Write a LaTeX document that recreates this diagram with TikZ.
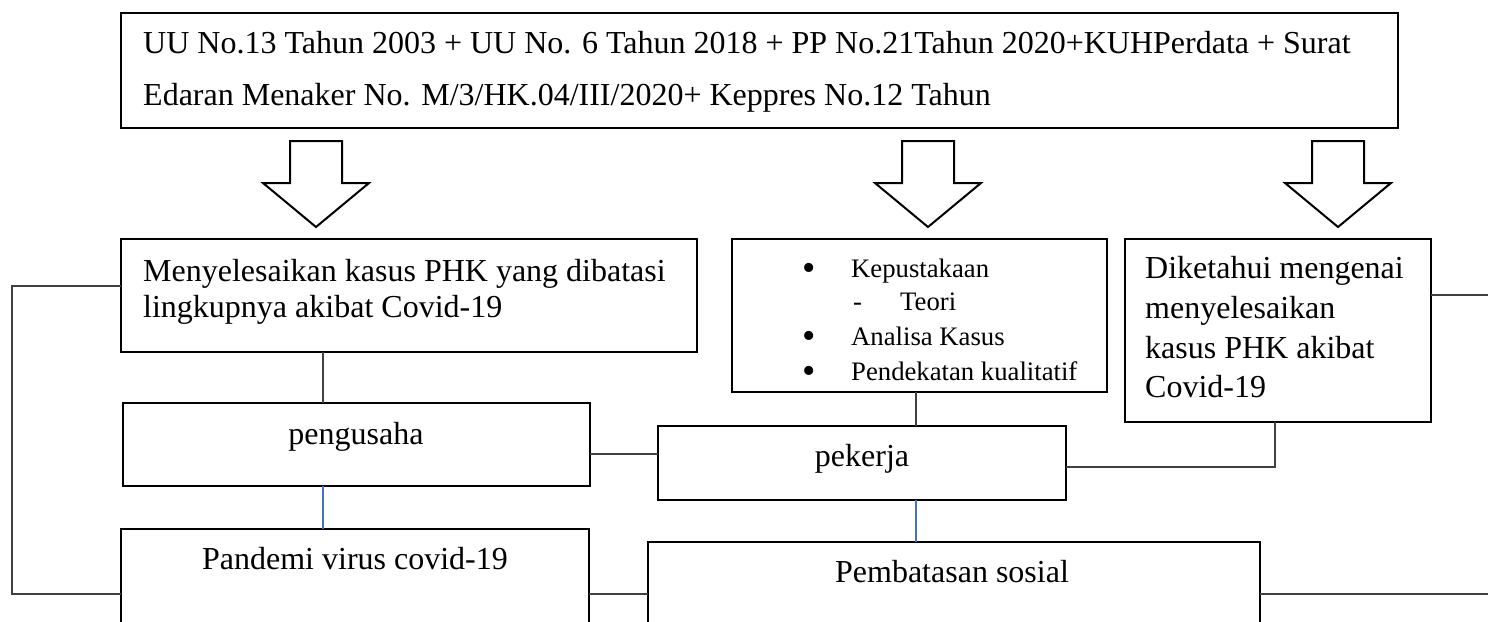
\documentclass[tikz,border=0pt]{standalone}
\usepackage{fontspec}
\setmainfont{Liberation Serif}
\definecolor{blueline}{HTML}{4472C4}
\definecolor{connline}{HTML}{404040}
\begin{document}
\begin{tikzpicture}[x=1pt,y=-1pt,
  box/.style={draw=black, line width=2.8pt, inner sep=0pt, outer sep=0pt, anchor=north west},
  conn/.style={draw=connline, line width=1.3pt},
  blueconn/.style={draw=blueline, line width=1.1pt},
  txt/.style={anchor=base west, inner sep=0pt, font=\fontsize{32}{38}\selectfont},
  ctxt/.style={anchor=base, inner sep=0pt, font=\fontsize{32}{38}\selectfont},
  smalltxt/.style={anchor=base west, inner sep=0pt, font=\fontsize{26.7}{31}\selectfont},
  bullettxt/.style={anchor=base west, inner sep=0pt, font=\fontsize{38}{38}\selectfont},
  barrow/.style={draw=black, line width=2pt, fill=white, line join=miter}]
\useasboundingbox (0,0) rectangle (1488,621);
\clip (0,0) rectangle (1488,621);

% boxes
\node[box, minimum width=1277pt, minimum height=115pt] (top) at (121,13) {};
\node[box, minimum width=576pt, minimum height=113pt] (menyel) at (121,239) {};
\node[box, minimum width=375pt, minimum height=153pt] (kepus) at (732,239) {};
\node[box, minimum width=306pt, minimum height=183pt] (diket) at (1125,239) {};
\node[box, minimum width=467pt, minimum height=83pt] (peng) at (123,403) {};
\node[box, minimum width=408pt, minimum height=74pt] (pekerja) at (658,426) {};
\node[box, minimum width=468pt, minimum height=130pt] (pandemi) at (121,529) {};
\node[box, minimum width=612pt, minimum height=120pt] (pembat) at (648,542) {};

% texts
\node[txt] (t1) at (143,53) {UU No.13 Tahun 2003 + UU No. 6 Tahun 2018 + PP No.21Tahun 2020+KUHPerdata + Surat};
\node[txt] (t2) at (143,105) {Edaran Menaker No. M/3/HK.04/III/2020+ Keppres No.12 Tahun};
\node[txt] (m1) at (143,281) {Menyelesaikan kasus PHK yang dibatasi};
\node[txt] (m2) at (143,317) {lingkupnya akibat Covid-19};
\node[bullettxt] (kb1) at (802,280) {\textbullet};
\node[smalltxt] (k1) at (851,277) {Kepustakaan};
\node[smalltxt] (kd) at (853,310) {-};
\node[smalltxt] (k2) at (900,310) {Teori};
\node[bullettxt] (kb3) at (802,348) {\textbullet};
\node[smalltxt] (k3) at (851,345) {Analisa Kasus};
\node[bullettxt] (kb4) at (802,383) {\textbullet};
\node[smalltxt] (k4) at (851,380) {Pendekatan kualitatif};
\node[txt] (d1) at (1145,278) {Diketahui mengenai};
\node[txt] (d2) at (1145,318) {menyelesaikan};
\node[txt] (d3) at (1145,358) {kasus PHK akibat};
\node[txt] (d4) at (1145,397) {Covid-19};
\node[ctxt] (pg) at (356,444) {pengusaha};
\node[ctxt] (pk) at (862,466) {pekerja};
\node[ctxt] (pd) at (355,569) {Pandemi virus covid-19};
\node[ctxt] (pb) at (952,582) {Pembatasan sosial};

% block arrows
\foreach \cx in {316,928,1338} {
  \draw[barrow] (\cx-26,141) -- (\cx+26,141) -- (\cx+26,183) -- (\cx+53,183)
    -- (\cx,227) -- (\cx-53,183) -- (\cx-26,183) -- cycle;
}

% helper coordinates
\coordinate (xa) at (323,0);
\coordinate (xb) at (916,0);
\coordinate (xc) at (1275,0);
\coordinate (ya) at (0,454);
\coordinate (yb) at (0,467);
\coordinate (yc) at (0,286);
\coordinate (yd) at (0,594);
\coordinate (ye) at (0,295);
\coordinate (lt) at (12,286);
\coordinate (lb) at (12,594);
\coordinate (rb) at (1488,594);
\coordinate (rt) at (1488,295);

% connectors
\draw[conn] (xa |- menyel.south) -- (xa |- peng.north);
\draw[blueconn] (xa |- peng.south) -- (xa |- pandemi.north);
\draw[conn] (xb |- kepus.south) -- (xb |- pekerja.north);
\draw[blueconn] (xb |- pekerja.south) -- (xb |- pembat.north);
\draw[conn] (peng.east |- ya) -- (pekerja.west |- ya);
\draw[conn] (pekerja.east |- yb) -- (xc |- yb) -- (xc |- diket.south);
\draw[conn] (menyel.west |- yc) -- (lt) -- (lb) -- (pandemi.west |- yd);
\draw[conn] (pandemi.east |- yd) -- (pembat.west |- yd);
\draw[conn] (pembat.east |- yd) -- (rb);
\draw[conn] (diket.east |- ye) -- (rt);
\end{tikzpicture}
\end{document}
